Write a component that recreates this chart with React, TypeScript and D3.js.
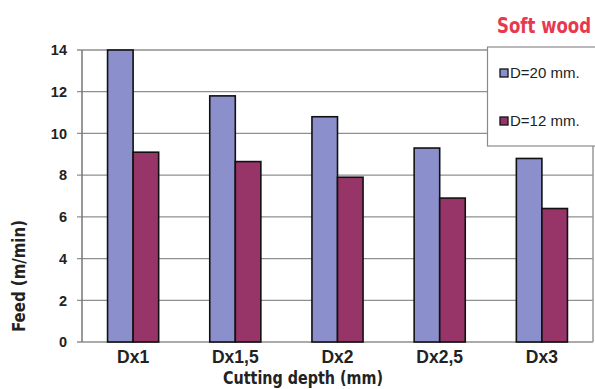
import React from "react";
import * as d3 from "d3";

const categories = ["Dx1", "Dx1,5", "Dx2", "Dx2,5", "Dx3"];
const seriesNames = ["D=20 mm.", "D=12 mm."];
const d20 = [14, 11.8, 10.8, 9.3, 8.8];
const d12 = [9.1, 8.65, 7.9, 6.9, 6.4];
const yTicks = [0, 2, 4, 6, 8, 10, 12, 14];
const colors = ["#8b8fcb", "#973568"];

const W = 595;
const H = 389;
const left = 82;
const right = 593;
const top = 50;
const bottom = 342;
const narrow = "'Liberation Sans Narrow', 'Arial Narrow', 'DejaVu Sans Condensed', sans-serif";
const arial = "Arial, 'Liberation Sans', sans-serif";

export default function App() {
  const x = d3.scaleBand<string>().domain(categories).range([left, right]).paddingInner(0.5).paddingOuter(0.25);
  const y = d3.scaleLinear().domain([0, 14]).range([bottom, top]);
  const sub = d3.scaleBand<number>().domain([0, 1]).range([0, x.bandwidth()]);
  const series = [d20, d12];
  return (
    <svg width={W} height={H} style={{ position: "absolute", left: 0, top: 0 }}>
      <rect x={0} y={0} width={W} height={H} fill="#ffffff" />
      {yTicks.map((t) => (
        <g key={t}>
          <line x1={77} x2={right} y1={y(t)} y2={y(t)} stroke="#8f8f8f" strokeWidth={1.3} />
          <text x={67} y={y(t)} dy="0.36em" textAnchor="end" fontFamily={arial} fontWeight="bold" fontSize={14.5} fill="#222">
            {t}
          </text>
        </g>
      ))}
      <line x1={left} x2={left} y1={top} y2={bottom} stroke="#777" strokeWidth={1.5} />
      <line x1={right} x2={right} y1={top} y2={bottom} stroke="#999" strokeWidth={1.5} />
      {series.map((vals, si) =>
        categories.map((c, i) => {
          const v = Math.min(vals[i], 14);
          return (
            <rect
              key={c + si}
              x={(x(c) as number) + (sub(si) as number)}
              y={y(v)}
              width={sub.bandwidth()}
              height={bottom - y(v)}
              fill={colors[si]}
              stroke="#111"
              strokeWidth={1.6}
            />
          );
        })
      )}
      {categories.map((c) => (
        <text key={c} x={(x(c) as number) + x.bandwidth() / 2} y={363} textAnchor="middle" fontFamily={arial} fontWeight="bold" fontSize={17.5} fill="#222">
          {c}
        </text>
      ))}
      <text x={303} y={384} textAnchor="middle" fontFamily={narrow} fontWeight="bold" fontSize={17} textLength={160} lengthAdjust="spacingAndGlyphs" fill="#222">
        Cutting depth (mm)
      </text>
      <text transform="translate(25,276) rotate(-90)" textAnchor="middle" fontFamily={narrow} fontWeight="bold" fontSize={17} textLength={112} lengthAdjust="spacingAndGlyphs" fill="#222">
        Feed (m/min)
      </text>
      <text x={497} y={33} fontFamily={narrow} fontWeight="bold" fontSize={21} textLength={94} lengthAdjust="spacingAndGlyphs" fill="#e8384f">
        Soft wood
      </text>
      <rect x={487.5} y={47} width={115} height={99} fill="#ffffff" stroke="#8a8a8a" strokeWidth={1.2} />
      {seriesNames.map((n, i) => (
        <g key={n} transform={`translate(0,${73 + i * 48})`}>
          <rect x={500} y={-4} width={8} height={8} fill={colors[i]} stroke="#111" strokeWidth={1.3} />
          <text x={510} y={0} dy="0.36em" fontFamily={arial} fontSize={15} fill="#222">
            {n}
          </text>
        </g>
      ))}
    </svg>
  );
}
